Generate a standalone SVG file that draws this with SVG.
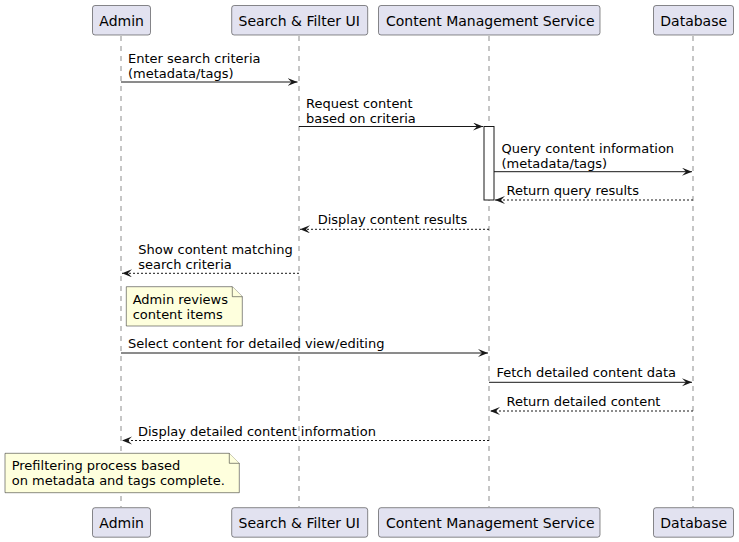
<svg xmlns="http://www.w3.org/2000/svg" width="739" height="542" viewBox="0 0 739 542">
<style>
.pbox{fill:#E2E2F0;stroke:#181818;stroke-width:0.5}
.ptxt{font-family:"DejaVu Sans",sans-serif;font-size:14px;fill:#000}
.life{stroke:#181818;stroke-width:0.5;stroke-dasharray:5,5;fill:none}
.msg{stroke:#181818;stroke-width:1;fill:none}
.dash{stroke-dasharray:2,2}
.mtxt{font-family:"DejaVu Sans",sans-serif;font-size:13px;fill:#000}
.note{fill:#FEFFDD;stroke:#181818;stroke-width:0.5}
.act{fill:#FFFFFF;stroke:#181818;stroke-width:1}
</style>
<defs>
<marker id="ah" markerUnits="userSpaceOnUse" markerWidth="12" markerHeight="10" refX="10" refY="4" orient="auto">
<path d="M0,0 L10,4 L0,8 L4,4 Z" fill="#181818"/>
</marker>
</defs>
<g id="lifelines">
<line class="life" x1="121" y1="36" x2="121" y2="507"/>
<line class="life" x1="299" y1="36" x2="299" y2="507"/>
<line class="life" x1="489" y1="36" x2="489" y2="507"/>
<line class="life" x1="693" y1="36" x2="693" y2="507"/>
</g>
<g id="activation">
<rect class="act" x="484" y="126.5" width="10" height="73.5"/>
</g>
<g id="p-admin">
<rect class="pbox" x="92.5" y="5.5" width="58" height="29.5" rx="2.5"/>
<text class="ptxt" x="99.3" y="25.5">Admin</text>
</g>
<g id="p-ui">
<rect class="pbox" x="231.7" y="5.5" width="136" height="29.5" rx="2.5"/>
<text class="ptxt" x="238.5" y="25.5">Search &amp; Filter UI</text>
</g>
<g id="p-cms">
<rect class="pbox" x="378.5" y="5.5" width="221.5" height="29.5" rx="2.5"/>
<text class="ptxt" x="386" y="25.5">Content Management Service</text>
</g>
<g id="p-db">
<rect class="pbox" x="653.5" y="5.5" width="80" height="29.5" rx="2.5"/>
<text class="ptxt" x="660.3" y="25.5">Database</text>
</g>
<g id="p-admin-bottom">
<rect class="pbox" x="92.5" y="507.7" width="58" height="29.5" rx="2.5"/>
<text class="ptxt" x="99.3" y="528">Admin</text>
</g>
<g id="p-ui-bottom">
<rect class="pbox" x="231.7" y="507.7" width="136" height="29.5" rx="2.5"/>
<text class="ptxt" x="238.5" y="528">Search &amp; Filter UI</text>
</g>
<g id="p-cms-bottom">
<rect class="pbox" x="378.5" y="507.7" width="221.5" height="29.5" rx="2.5"/>
<text class="ptxt" x="386" y="528">Content Management Service</text>
</g>
<g id="p-db-bottom">
<rect class="pbox" x="653.5" y="507.7" width="80" height="29.5" rx="2.5"/>
<text class="ptxt" x="660.3" y="528">Database</text>
</g>
<g id="connectors">
<line class="msg" x1="121" y1="82" x2="297.5" y2="82" marker-end="url(#ah)"/>
<text class="mtxt" x="128" y="63">Enter search criteria</text>
<text class="mtxt" x="128" y="78">(metadata/tags)</text>

<line class="msg" x1="299" y1="126.5" x2="483" y2="126.5" marker-end="url(#ah)"/>
<text class="mtxt" x="306" y="107.5">Request content</text>
<text class="mtxt" x="306" y="122.5">based on criteria</text>

<line class="msg" x1="494" y1="171.7" x2="692" y2="171.7" marker-end="url(#ah)"/>
<text class="mtxt" x="501.5" y="152.5">Query content information</text>
<text class="mtxt" x="501.5" y="167.5">(metadata/tags)</text>

<line class="msg dash" x1="693" y1="200" x2="495" y2="200" marker-end="url(#ah)"/>
<text class="mtxt" x="506.5" y="195">Return query results</text>

<line class="msg dash" x1="489" y1="229.3" x2="300" y2="229.3" marker-end="url(#ah)"/>
<text class="mtxt" x="317.7" y="224">Display content results</text>

<line class="msg dash" x1="299" y1="273.3" x2="122" y2="273.3" marker-end="url(#ah)"/>
<text class="mtxt" x="138.3" y="253.5">Show content matching</text>
<text class="mtxt" x="138.3" y="268.5">search criteria</text>

<line class="msg" x1="121" y1="353" x2="488" y2="353" marker-end="url(#ah)"/>
<text class="mtxt" x="128" y="348">Select content for detailed view/editing</text>

<line class="msg" x1="489" y1="382.3" x2="692" y2="382.3" marker-end="url(#ah)"/>
<text class="mtxt" x="496.5" y="377">Fetch detailed content data</text>

<line class="msg dash" x1="693" y1="411" x2="490" y2="411" marker-end="url(#ah)"/>
<text class="mtxt" x="506.5" y="406">Return detailed content</text>

<line class="msg dash" x1="489" y1="440.5" x2="122" y2="440.5" marker-end="url(#ah)"/>
<text class="mtxt" x="138" y="435.5">Display detailed content information</text>
</g>
<g id="note-review">
<path class="note" d="M126.3,286.7 L126.3,326 L242.3,326 L242.3,296.7 L232.3,286.7 Z"/>
<path class="note" d="M232.3,286.7 L232.3,296.7 L242.3,296.7"/>
<text class="mtxt" x="132.7" y="303.5">Admin reviews</text>
<text class="mtxt" x="132.7" y="318.5">content items</text>
</g>
<g id="note-complete">
<path class="note" d="M5,453.3 L5,492.7 L239.3,492.7 L239.3,463.3 L229.3,453.3 Z"/>
<path class="note" d="M229.3,453.3 L229.3,463.3 L239.3,463.3"/>
<text class="mtxt" x="11.7" y="470">Prefiltering process based</text>
<text class="mtxt" x="11.7" y="485">on metadata and tags complete.</text>
</g>
</svg>
